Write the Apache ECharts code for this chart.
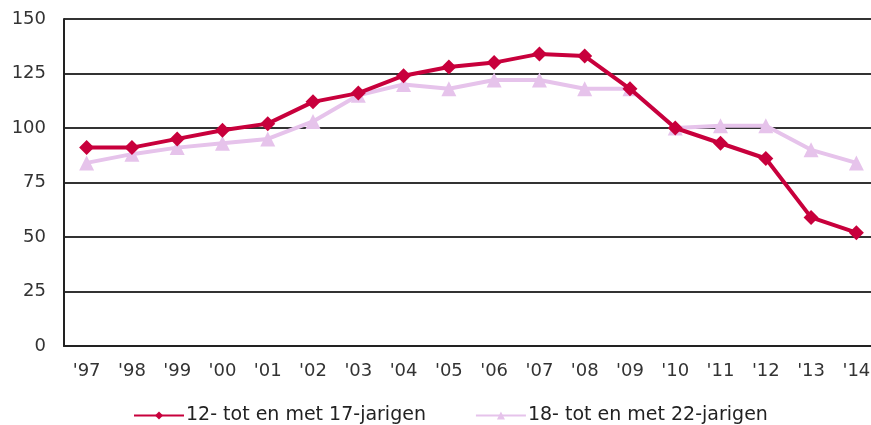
<!DOCTYPE html>
<html>
<head>
<meta charset="utf-8">
<script src="https://cdn.jsdelivr.net/npm/echarts@6/dist/echarts.min.js"></script>
<style>
  html, body { margin: 0; padding: 0; background: #fff; overflow: hidden; }
  /* the plot area runs a few pixels past the visible window */
  #chart { width: 879px; height: 425px; }
</style>
</head>
<body>
<div id="chart"></div>
<script>
// Years shown on the horizontal axis
const years = ["'97", "'98", "'99", "'00", "'01", "'02", "'03", "'04", "'05", "'06",
               "'07", "'08", "'09", "'10", "'11", "'12", "'13", "'14"];

// Index values per age group (2010 = 100)
const age12to17 = [91, 91, 95, 99, 102, 112, 116, 124, 128, 130, 134, 133, 118, 100, 93, 86, 59, 52];
const age18to22 = [84, 88, 91, 93, 95, 103, 115, 120, 118, 122, 122, 118, 118, 100, 101, 101, 90, 84];

const seriesNames = ['12- tot en met 17-jarigen', '18- tot en met 22-jarigen'];

const chart = echarts.init(document.getElementById('chart'));
const font = 'Verdana, "DejaVu Sans", sans-serif';

chart.setOption({
  animation: false,
  backgroundColor: '#fff',
  grid: { left: 64, right: 0, top: 19, bottom: 79 },
  legend: {
    top: 406,
    left: 133,
    padding: 0,
    itemWidth: 50,
    itemHeight: 10,
    itemGap: 49,
    textStyle: { fontFamily: font, fontSize: 19, color: '#222', padding: [0, 0, 0, -3] },
    data: seriesNames
  },
  xAxis: {
    type: 'category',
    data: years,
    boundaryGap: true,
    axisLine: { lineStyle: { color: '#222', width: 2 } },
    axisTick: { show: false },
    axisLabel: { fontFamily: font, fontSize: 18, color: '#333', margin: 16 }
  },
  yAxis: {
    type: 'value',
    min: 0,
    max: 150,
    interval: 25,
    axisLine: { show: true, lineStyle: { color: '#222', width: 2 } },
    axisTick: { show: false },
    splitLine: { lineStyle: { color: '#333', width: 2 } },
    axisLabel: { fontFamily: font, fontSize: 18, color: '#333', margin: 18 }
  },
  series: [
    {
      name: seriesNames[1],
      type: 'line',
      data: age18to22,
      z: 2,
      symbol: 'triangle',
      symbolSize: 15,
      lineStyle: { color: '#E6C3EB', width: 4 },
      itemStyle: { color: '#E6C3EB' }
    },
    {
      name: seriesNames[0],
      type: 'line',
      data: age12to17,
      z: 3,
      symbol: 'diamond',
      symbolSize: 15,
      lineStyle: { color: '#C8003C', width: 4 },
      itemStyle: { color: '#C8003C' }
    }
  ]
});
</script>
</body>
</html>
